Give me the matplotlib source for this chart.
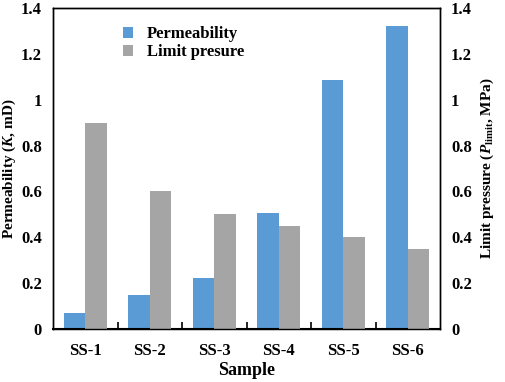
import numpy as np
import matplotlib.pyplot as plt

plt.rcParams['font.family'] = 'Liberation Serif'
plt.rcParams['font.weight'] = 'bold'
plt.rcParams['mathtext.fontset'] = 'custom'
plt.rcParams['mathtext.rm'] = 'Liberation Serif:bold'
plt.rcParams['mathtext.it'] = 'Liberation Serif:bold:italic'

samples = ['SS-1', 'SS-2', 'SS-3', 'SS-4', 'SS-5', 'SS-6']
permeability = [0.071, 0.147, 0.222, 0.505, 1.086, 1.321]
limit_pressure = [0.9, 0.6, 0.5, 0.45, 0.4, 0.35]
yticks = [0, 0.2, 0.4, 0.6, 0.8, 1, 1.2, 1.4]
ytick_labels = ['0', '0.2', '0.4', '0.6', '0.8', '1', '1.2', '1.4']

blue = '#5B9BD5'
gray = '#A5A5A5'

fig = plt.figure(figsize=(5.05, 3.82), dpi=100)
ax = fig.add_axes([53/505, 1 - 329/382, (440-53)/505, (329-8)/382])
ax2 = ax.twinx()

x = np.arange(len(samples))
w = 1/3
b1 = ax.bar(x - w/2, permeability, w, color=blue, label='Permeability')
b2 = ax2.bar(x + w/2, limit_pressure, w, color=gray, label='Limit presure')

for a in (ax, ax2):
    a.set_ylim(0, 1.4)
    a.set_yticks(yticks)
    a.set_yticklabels(ytick_labels, fontsize=12, fontweight='bold')
    a.tick_params(axis='y', length=0, pad=8)
    for s in a.spines.values():
        s.set_linewidth(1.0)
ax.spines['bottom'].set_linewidth(1.5)

ax.set_xlim(-0.5, 5.5)
ax.set_xticks(x)
ax.set_xticklabels(samples, fontsize=12, fontweight='bold')
ax.tick_params(axis='x', length=0, pad=10)
ax.set_xticks(np.arange(0.5, 5.5, 1), minor=True)
ax.tick_params(axis='x', which='minor', direction='in', length=5, width=1.2)

ax.set_xlabel('Sample', fontsize=13, fontweight='bold', labelpad=2)
ax.set_ylabel('Permeability ($\\mathit{K}$, mD)', fontsize=11, fontweight='bold', labelpad=2)
ax2.set_ylabel('Limit pressure ($\\mathit{P}_{\\mathrm{limit}}$, MPa)', fontsize=11, fontweight='bold', labelpad=5)

ax.legend([b1, b2], ['Permeability', 'Limit presure'], loc='upper left',
          bbox_to_anchor=(0.141, 0.99), frameon=False, fontsize=12,
          handlelength=0.6, handleheight=0.6, handletextpad=0.85, labelspacing=0.12)

fig.savefig('out.png', dpi=100)
